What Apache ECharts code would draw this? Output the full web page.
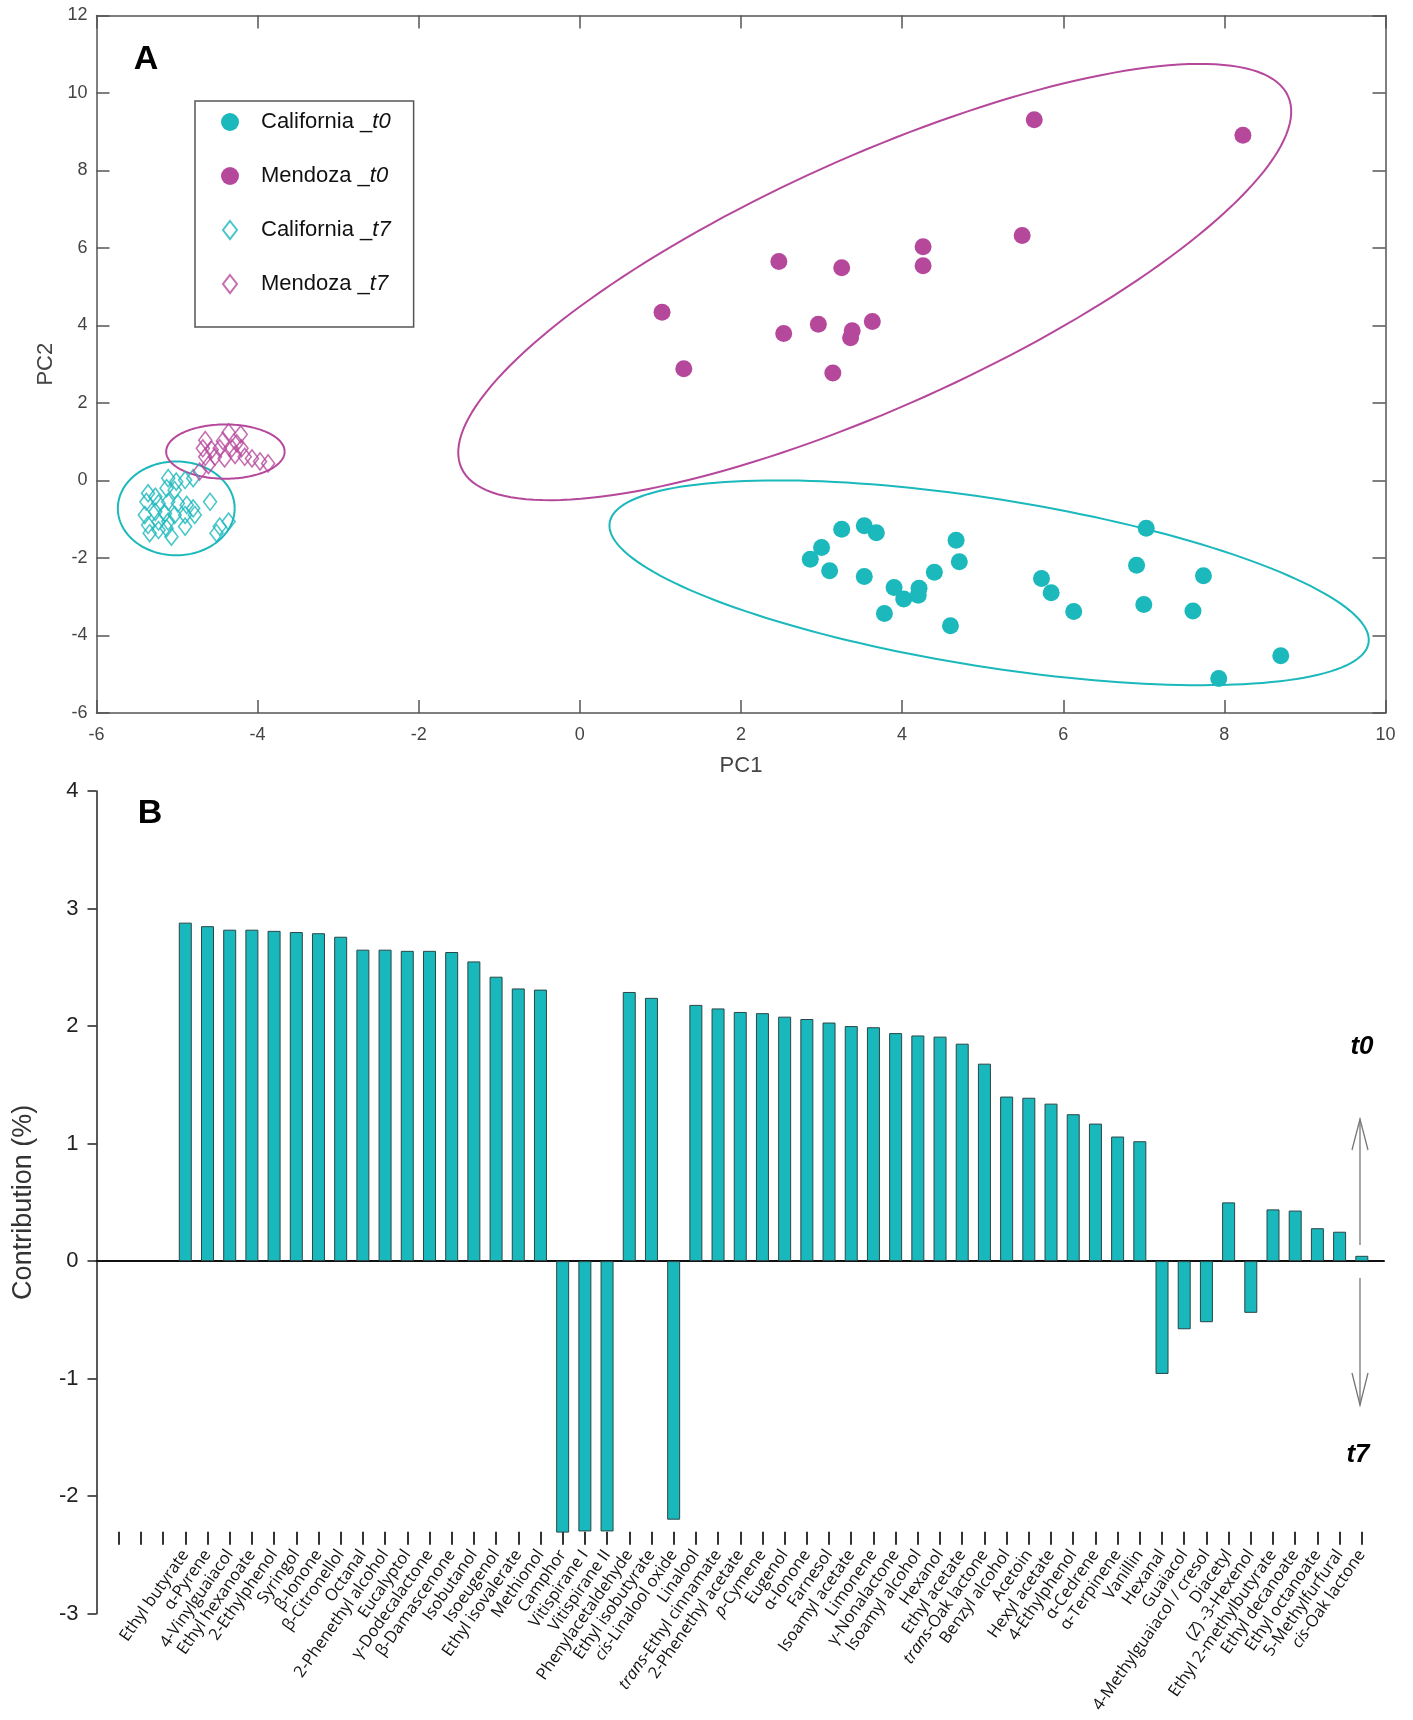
<!DOCTYPE html>
<html>
<head>
<meta charset="utf-8">
<script src="https://cdn.jsdelivr.net/npm/echarts@6/dist/echarts.min.js"></script>
<style>
  html, body { margin: 0; padding: 0; background: #fff; }
  #chart { width: 1413px; height: 1720px; }
</style>
</head>
<body>
<div id="chart"></div>
<script>
// ---- panel A: PCA scores (PC1, PC2) ----
const californiaT0 = [
  [3.25, -1.26], [3.53, -1.17], [3.68, -1.35], [3.00, -1.73], [2.86, -2.03],
  [3.10, -2.33], [3.53, -2.48], [3.90, -2.76], [4.02, -3.06], [4.21, -2.78],
  [4.20, -2.96], [4.40, -2.37], [4.67, -1.54], [4.71, -2.10], [3.78, -3.43],
  [4.60, -3.75], [7.03, -1.23], [6.91, -2.19], [7.74, -2.46], [5.73, -2.53],
  [5.85, -2.90], [7.00, -3.20], [6.13, -3.38], [7.61, -3.37], [8.70, -4.52],
  [7.93, -5.11]
];
const mendozaT0 = [
  [5.64, 9.31], [8.23, 8.91], [5.49, 6.32], [4.26, 6.03], [4.26, 5.54],
  [2.47, 5.65], [3.25, 5.49], [1.02, 4.34], [2.53, 3.79], [2.96, 4.03],
  [3.38, 3.86], [3.36, 3.68], [3.63, 4.10], [1.29, 2.88], [3.14, 2.77]
];
const californiaT7 = [
  [-5.11, 0.06], [-5.01, -0.03], [-4.90, 0.01], [-4.80, 0.06], [-5.13, -0.20],
  [-5.03, -0.25], [-5.36, -0.33], [-5.27, -0.42], [-5.38, -0.55], [-5.23, -0.59],
  [-5.11, -0.55], [-4.99, -0.59], [-4.88, -0.63], [-4.80, -0.72], [-4.59, -0.55],
  [-5.40, -0.89], [-5.27, -0.81], [-5.15, -0.85], [-5.03, -0.89], [-4.90, -0.89],
  [-4.78, -0.89], [-5.36, -1.15], [-5.23, -1.06], [-5.11, -1.06], [-5.34, -1.36],
  [-5.23, -1.28], [-5.13, -1.23], [-5.07, -1.45], [-4.90, -1.19], [-4.47, -1.19],
  [-4.36, -1.06], [-4.51, -1.36]
];
const mendozaT7 = [
  [-4.36, 1.24], [-4.21, 1.19], [-4.65, 1.04], [-4.43, 1.02], [-4.26, 0.96],
  [-4.68, 0.83], [-4.57, 0.79], [-4.47, 0.83], [-4.32, 0.83], [-4.20, 0.83],
  [-4.65, 0.61], [-4.53, 0.61], [-4.41, 0.57], [-4.28, 0.66], [-4.16, 0.61],
  [-4.07, 0.57], [-3.97, 0.49], [-3.87, 0.44], [-4.72, 0.23], [-4.61, 0.40]
];
// confidence ellipses: centre x, centre y, semi-axis vector U (x, y), semi-axis vector V (x, y)
const ellipsesTeal = [
  [5.08, -2.64, 4.71, -1.55, -0.16, -2.14],
  [-5.01, -0.72, 0.725, 0, 0, 1.21]
];
const ellipsesMagenta = [
  [3.66, 5.12, 5.13, 4.80, 0.64, -2.94],
  [-4.40, 0.745, 0.735, 0, 0, 0.70]
];

// ---- panel B: contribution of each compound (%) ----
const compounds = [
  'Ethyl butyrate', 'α-Pyrene', '4-Vinylguaiacol', 'Ethyl hexanoate', '2-Ethylphenol',
  'Syringol', 'β-Ionone', 'β-Citronellol', 'Octanal', '2-Phenethyl alcohol',
  'Eucalyptol', 'γ-Dodecalactone', 'β-Damascenone', 'Isobutanol', 'Isoeugenol',
  'Ethyl isovalerate', 'Methionol', 'Camphor', 'Vitispirane I', 'Vitispirane II',
  'Phenylacetaldehyde', 'Ethyl isobutyrate', 'cis-Linalool oxide', 'Linalool',
  'trans-Ethyl cinnamate', '2-Phenethyl acetate', 'p-Cymene', 'Eugenol', 'α-Ionone',
  'Farnesol', 'Isoamyl acetate', 'Limonene', 'γ-Nonalactone', 'Isoamyl alcohol',
  'Hexanol', 'Ethyl acetate', 'trans-Oak lactone', 'Benzyl alcohol', 'Acetoin',
  'Hexyl acetate', '4-Ethylphenol', 'α-Cedrene', 'α-Terpinene', 'Vanillin',
  'Hexanal', 'Guaiacol', '4-Methylguaiacol / cresol', 'Diacetyl', '(Z) -3-Hexenol',
  'Ethyl 2-methylbutyrate', 'Ethyl decanoate', 'Ethyl octanoate', '5-Methylfurfural',
  'cis-Oak lactone'
];
const contribution = [
  2.88, 2.85, 2.82, 2.82, 2.81, 2.80, 2.79, 2.76, 2.65, 2.65,
  2.64, 2.64, 2.63, 2.55, 2.42, 2.32, 2.31, -2.31, -2.30, -2.30,
  2.29, 2.24, -2.20, 2.18, 2.15, 2.12, 2.11, 2.08, 2.06, 2.03,
  2.00, 1.99, 1.94, 1.92, 1.91, 1.85, 1.68, 1.40, 1.39, 1.34,
  1.25, 1.17, 1.06, 1.02, -0.96, -0.58, -0.52, 0.50, -0.44, 0.44,
  0.43, 0.28, 0.25, 0.045
];
// the axis has three unlabelled ticks before the first compound
const blankTicks = 3;

const TEAL = '#1bb8bc';
const MAGENTA = '#b6489c';
const SANS = "'Liberation Sans', Arial, sans-serif";

// padding slot on each end so the first tick sits one step right of the y axis
const cats = [''].concat(new Array(blankTicks).fill(''), compounds, ['']);
const barValues = [null].concat(new Array(blankTicks).fill(null), contribution, [null]);

function renderEllipse(params, api) {
  const cx = api.value(0), cy = api.value(1);
  const ux = api.value(2), uy = api.value(3), vx = api.value(4), vy = api.value(5);
  const pts = [];
  for (let k = 0; k <= 180; k++) {
    const t = k / 180 * Math.PI * 2;
    pts.push(api.coord([cx + ux * Math.cos(t) + vx * Math.sin(t), cy + uy * Math.cos(t) + vy * Math.sin(t)]));
  }
  return {
    type: 'polyline',
    shape: { points: pts },
    style: { stroke: api.visual('color'), fill: null, lineWidth: 2 }
  };
}

function italicPrefix(v) {
  return v.replace(/^(trans|cis|p)-/, '{i|$1}-').replace(/^\(Z\)/, '({i|Z})');
}

const boxAxisLine = { show: true, onZero: false, lineStyle: { color: '#555', width: 1.5 } };
const boxTick = { show: true, inside: true, length: 13, lineStyle: { color: '#555', width: 1.5 } };
const aLabel = { color: '#444', fontSize: 18, fontFamily: SANS };
const narrowDiamond = 'path://M7,0L14,9L7,18L0,9Z';

const chart = echarts.init(document.getElementById('chart'));
chart.setOption({
  animation: false,
  backgroundColor: '#fff',
  grid: [
    { left: 96.5, top: 15.4, width: 1289, height: 697.6 },
    { left: 96.5, top: 791, width: 1287.5, height: 822.7 }
  ],
  legend: {
    data: [
      { name: 'California _t0', icon: 'circle' },
      { name: 'Mendoza _t0', icon: 'circle' },
      { name: 'California _t7', icon: narrowDiamond },
      { name: 'Mendoza _t7', icon: narrowDiamond }
    ],
    orient: 'vertical',
    left: 195,
    top: 101,
    itemWidth: 18,
    itemHeight: 18,
    itemGap: 32,
    padding: [10, 23, 32, 26],
    borderColor: '#555',
    borderWidth: 1.5,
    selectedMode: false,
    formatter: name => name.replace(/_(t\d)$/, '_{i|$1}'),
    textStyle: {
      fontFamily: SANS, fontSize: 22, color: '#111', padding: [0, 0, 0, 17],
      rich: { i: { fontFamily: SANS, fontSize: 22, color: '#111', fontStyle: 'italic' } }
    }
  },
  xAxis: [
    {
      gridIndex: 0, type: 'value', min: -6, max: 10, interval: 2, position: 'bottom',
      name: 'PC1', nameLocation: 'middle', nameGap: 42,
      nameTextStyle: { color: '#444', fontSize: 22, fontFamily: SANS },
      axisLine: boxAxisLine, axisTick: boxTick, splitLine: { show: false },
      axisLabel: Object.assign({ margin: 13 }, aLabel)
    },
    {
      gridIndex: 0, type: 'value', min: -6, max: 10, interval: 2, position: 'top',
      axisLine: boxAxisLine, axisTick: boxTick, splitLine: { show: false },
      axisLabel: { show: false }
    },
    {
      gridIndex: 1, type: 'category', data: cats, boundaryGap: false, position: 'bottom',
      axisLine: { show: true, onZero: true, lineStyle: { color: '#111', width: 2 } },
      axisTick: { show: false }, axisLabel: { show: false }, splitLine: { show: false }
    },
    {
      gridIndex: 1, type: 'category', data: cats, boundaryGap: false, position: 'bottom',
      offset: -82,
      axisLine: { show: false },
      axisTick: {
        show: true, length: 13,
        interval: idx => idx >= 1 && idx <= cats.length - 2,
        lineStyle: { color: '#333', width: 2 }
      },
      axisLabel: {
        interval: 0, rotate: 55, margin: 20,
        fontFamily: "'Open Sans', sans-serif", fontSize: 16.5, color: '#111',
        formatter: italicPrefix,
        rich: { i: { fontFamily: "'Open Sans', sans-serif", fontSize: 16.5, color: '#111', fontStyle: 'italic' } }
      },
      splitLine: { show: false }
    }
  ],
  yAxis: [
    {
      gridIndex: 0, type: 'value', min: -6, max: 12, interval: 2, position: 'left',
      name: 'PC2', nameLocation: 'middle', nameGap: 40,
      nameTextStyle: { color: '#444', fontSize: 22, fontFamily: SANS },
      axisLine: boxAxisLine, axisTick: boxTick, splitLine: { show: false },
      axisLabel: Object.assign({ margin: 9 }, aLabel)
    },
    {
      gridIndex: 0, type: 'value', min: -6, max: 12, interval: 2, position: 'right',
      axisLine: boxAxisLine, axisTick: boxTick, splitLine: { show: false },
      axisLabel: { show: false }
    },
    {
      gridIndex: 1, type: 'value', min: -3, max: 4, interval: 1, position: 'left',
      name: 'Contribution (%)', nameLocation: 'middle', nameGap: 59,
      nameTextStyle: { color: '#333', fontSize: 27, fontFamily: SANS },
      axisLine: { show: true, onZero: false, lineStyle: { color: '#222', width: 1.5 } },
      axisTick: { show: true, length: 9, lineStyle: { color: '#222', width: 1.5 } },
      axisLabel: { color: '#222', fontSize: 22, fontFamily: SANS, margin: 18 },
      splitLine: { show: false }
    }
  ],
  graphic: [
    { type: 'text', x: 146, y: 60, style: { text: 'A', font: 'bold 34px ' + SANS, fill: '#000', align: 'center', verticalAlign: 'middle' } },
    { type: 'text', x: 150, y: 814, style: { text: 'B', font: 'bold 34px ' + SANS, fill: '#000', align: 'center', verticalAlign: 'middle' } },
    { type: 'polyline', shape: { points: [[1360, 1245], [1360, 1119]] }, style: { stroke: '#777', lineWidth: 1.3, fill: null } },
    { type: 'polyline', shape: { points: [[1352, 1150], [1360, 1119], [1368, 1150]] }, style: { stroke: '#777', lineWidth: 1.3, fill: null } },
    { type: 'polyline', shape: { points: [[1360, 1278], [1360, 1405]] }, style: { stroke: '#777', lineWidth: 1.3, fill: null } },
    { type: 'polyline', shape: { points: [[1352, 1373], [1360, 1405], [1368, 1373]] }, style: { stroke: '#777', lineWidth: 1.3, fill: null } },
    { type: 'text', x: 1362, y: 1047, style: { text: 't0', font: 'italic bold 26px ' + SANS, fill: '#000', align: 'center', verticalAlign: 'middle' } },
    { type: 'text', x: 1358, y: 1455, style: { text: 't7', font: 'italic bold 26px ' + SANS, fill: '#000', align: 'center', verticalAlign: 'middle' } }
  ],
  series: [
    {
      type: 'custom', name: 'ellipse teal', xAxisIndex: 0, yAxisIndex: 0, z: 1,
      renderItem: renderEllipse, data: ellipsesTeal, itemStyle: { color: TEAL }, silent: true
    },
    {
      type: 'custom', name: 'ellipse magenta', xAxisIndex: 0, yAxisIndex: 0, z: 1,
      renderItem: renderEllipse, data: ellipsesMagenta, itemStyle: { color: MAGENTA }, silent: true
    },
    {
      type: 'scatter', name: 'California _t0', xAxisIndex: 0, yAxisIndex: 0, z: 3,
      symbol: 'circle', symbolSize: 17, data: californiaT0, itemStyle: { color: TEAL, opacity: 1 }
    },
    {
      type: 'scatter', name: 'Mendoza _t0', xAxisIndex: 0, yAxisIndex: 0, z: 3,
      symbol: 'circle', symbolSize: 17, data: mendozaT0, itemStyle: { color: MAGENTA, opacity: 1 }
    },
    {
      type: 'scatter', name: 'California _t7', xAxisIndex: 0, yAxisIndex: 0, z: 3,
      symbol: 'diamond', symbolSize: [13, 17], data: californiaT7,
      itemStyle: { color: 'rgba(0,0,0,0)', borderColor: TEAL, borderWidth: 1.6 }
    },
    {
      type: 'scatter', name: 'Mendoza _t7', xAxisIndex: 0, yAxisIndex: 0, z: 3,
      symbol: 'diamond', symbolSize: [13, 17], data: mendozaT7,
      itemStyle: { color: 'rgba(0,0,0,0)', borderColor: MAGENTA, borderWidth: 1.6 }
    },
    {
      type: 'bar', name: 'Contribution', xAxisIndex: 2, yAxisIndex: 2,
      barWidth: 13, data: barValues,
      itemStyle: { color: '#18b8bc', borderColor: '#2a4747', borderWidth: 1 }
    }
  ]
});
</script>
</body>
</html>
